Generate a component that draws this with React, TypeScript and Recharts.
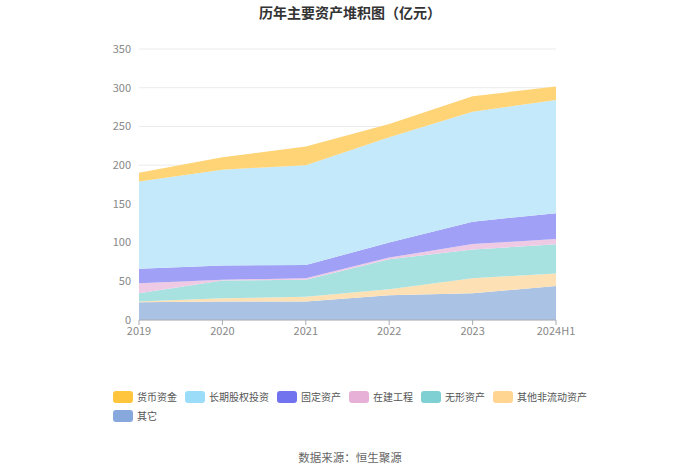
import React from 'react';
import { AreaChart, Area, XAxis, YAxis, CartesianGrid } from 'recharts';

const years = ['2019', '2020', '2021', '2022', '2023', '2024H1'];
const cash = [11.3, 16, 24, 17, 20, 17.5];
const ltEquity = [112.7, 123.8, 129, 136, 142, 146];
const fixedAssets = [18.6, 18.3, 17, 19.5, 29, 33.4];
const construction = [13, 1, 2, 2, 7, 6.8];
const intangible = [10.5, 23, 22, 39, 37, 37.8];
const otherNonCurrent = [1, 4, 6, 7.6, 19.5, 16];
const others = [23, 24, 24, 32, 34.5, 44];
const yTicks = [0, 50, 100, 150, 200, 250, 300, 350];

const series = [
  { key: 'others', name: '其它', values: others, fill: '#AAC2E4', legend: '#86A8DD' },
  { key: 'otherNonCurrent', name: '其他非流动资产', values: otherNonCurrent, fill: '#FDE1B5', legend: '#FFD591' },
  { key: 'intangible', name: '无形资产', values: intangible, fill: '#A8E2E0', legend: '#7FD0D2' },
  { key: 'construction', name: '在建工程', values: construction, fill: '#EFCAE5', legend: '#E7B0D6' },
  { key: 'fixedAssets', name: '固定资产', values: fixedAssets, fill: '#A0A1F6', legend: '#7072EE' },
  { key: 'ltEquity', name: '长期股权投资', values: ltEquity, fill: '#C4E9FA', legend: '#9BDCF9' },
  { key: 'cash', name: '货币资金', values: cash, fill: '#FED477', legend: '#FFC53D' },
];

const data = years.map((y, i) => {
  const row: any = { year: y };
  series.forEach((s) => {
    row[s.key] = s.values[i];
  });
  return row;
});

const legendOrder = [...series].reverse();
const font = '"Noto Sans CJK SC", "Noto Sans", sans-serif';

export default function App() {
  return (
    <div style={{ position: 'absolute', left: 0, top: 0, width: 700, height: 474, background: '#fff', fontFamily: font }}>
      <div style={{ position: 'absolute', top: 2, left: 0, width: 700, textAlign: 'center', fontSize: 14, fontWeight: 'bold', color: '#333', lineHeight: '20px' }}>
        历年主要资产堆积图（亿元）
      </div>
      <div style={{ position: 'absolute', top: 0, left: 0 }}>
        <AreaChart width={700} height={474} data={data} margin={{ top: 49, right: 144, left: 0, bottom: 124 }}>
          <CartesianGrid horizontal vertical={false} stroke="#EBEBEB" />
          <XAxis
            dataKey="year"
            axisLine={{ stroke: '#A9ACB4' }}
            tickLine={{ stroke: '#A9ACB4' }}
            tickSize={5}
            height={30}
            tick={{ fill: '#888', fontSize: 11, fontFamily: font }}
            interval={0}
          />
          <YAxis
            width={139}
            domain={[0, 350]}
            ticks={yTicks}
            axisLine={false}
            tickLine={false}
            tick={{ fill: '#888', fontSize: 11, fontFamily: font }}
          />
          {series.map((s) => (
            <Area
              key={s.key}
              type="linear"
              dataKey={s.key}
              name={s.name}
              stackId="a"
              stroke="none"
              fill={s.fill}
              fillOpacity={1}
              isAnimationActive={false}
              dot={false}
              activeDot={false}
            />
          ))}
        </AreaChart>
      </div>
      <div style={{ position: 'absolute', left: 113, top: 391, width: 490, display: 'flex', flexWrap: 'wrap', rowGap: 7, columnGap: 8 }}>
        {legendOrder.map((s) => (
          <div key={s.key} style={{ display: 'flex', alignItems: 'center', height: 12 }}>
            <div style={{ width: 20, height: 12, borderRadius: 3, background: s.legend, marginRight: 4 }} />
            <span style={{ fontSize: 10, color: '#555', lineHeight: '12px', whiteSpace: 'nowrap' }}>{s.name}</span>
          </div>
        ))}
      </div>
      <div style={{ position: 'absolute', top: 449, left: 0, width: 700, textAlign: 'center', fontSize: 11.5, color: '#666', lineHeight: '16px' }}>
        数据来源：恒生聚源
      </div>
    </div>
  );
}
